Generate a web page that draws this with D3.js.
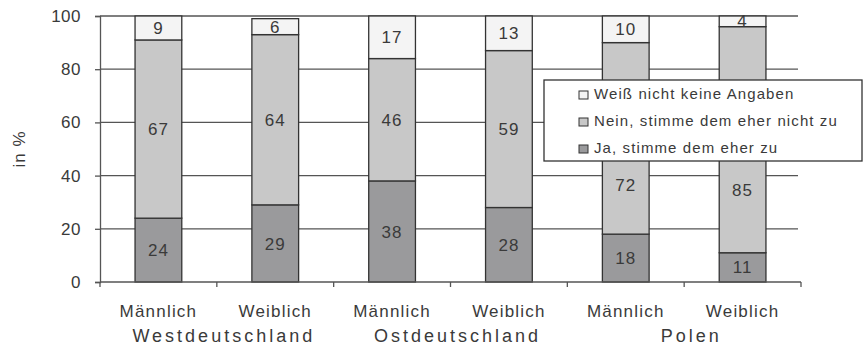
<!DOCTYPE html>
<html>
<head>
<meta charset="utf-8">
<script src="https://cdn.jsdelivr.net/npm/d3@7"></script>
<style>
  html, body { margin: 0; padding: 0; background: #fff; }
  svg { display: block; font-family: Arial, "Liberation Sans", sans-serif; }
</style>
</head>
<body>
<svg id="chart" width="864" height="347"></svg>
<script>
// Categories: gender within each region
const categories = ["WD-M", "WD-W", "OD-M", "OD-W", "PL-M", "PL-W"];
const genderLabels = ["Männlich", "Weiblich", "Männlich", "Weiblich", "Männlich", "Weiblich"];
const regions = ["Westdeutschland", "Ostdeutschland", "Polen"];

// Answer shares in percent (stacked bottom to top)
const ja = [24, 29, 38, 28, 18, 11];
const nein = [67, 64, 46, 59, 72, 85];
const weissNicht = [9, 6, 17, 13, 10, 4];

const seriesNames = ["Ja, stimme dem eher zu", "Nein, stimme dem eher nicht zu", "Weiß nicht keine Angaben"];
const yTicks = [0, 20, 40, 60, 80, 100];

const colors = ["#9a9a9c", "#c8c8c8", "#f4f4f4"];
const ink = "#3a3a3a";

const svg = d3.select("#chart");
const margin = { left: 100, right: 63, top: 16, bottom: 65 };
const W = 864, H = 347;

// Legend box placement
const legendBox = { x: 544, y: 80, w: 318, h: 81 };

const x = d3.scaleBand().domain(categories).range([margin.left, W - margin.right]).padding(0);
const y = d3.scaleLinear().domain([0, 100]).range([H - margin.bottom, margin.top]).clamp(true);
const barW = x.bandwidth() * 0.4;

// Gridlines
svg.append("g")
  .selectAll("line")
  .data(yTicks.filter(d => d > 0))
  .join("line")
  .attr("x1", margin.left).attr("x2", W - margin.right - 3)
  .attr("y1", d => y(d)).attr("y2", d => y(d))
  .attr("stroke", "#555").attr("stroke-width", 1.3);

// Stacked data
const table = categories.map((c, i) => ({ cat: c, ja: ja[i], nein: nein[i], weiss: weissNicht[i] }));
const stack = d3.stack().keys(["ja", "nein", "weiss"])(table);

const layers = svg.append("g")
  .selectAll("g")
  .data(stack)
  .join("g")
  .attr("fill", (d, i) => colors[i]);

layers.selectAll("rect")
  .data(d => d)
  .join("rect")
  .attr("x", d => x(d.data.cat) + (x.bandwidth() - barW) / 2)
  .attr("width", barW)
  .attr("y", d => y(d[1]))
  .attr("height", d => y(d[0]) - y(d[1]))
  .attr("stroke", "#333")
  .attr("stroke-width", 1.3);

// Value labels: centred in the segment, or moved into the visible part below the legend
function labelY(s) {
  const cx = x(s.data.cat) + x.bandwidth() / 2;
  const top = y(s[1]), bottom = y(s[0]);
  const mid = (top + bottom) / 2;
  const underLegend = cx > legendBox.x && cx < legendBox.x + legendBox.w &&
    mid > legendBox.y && mid < legendBox.y + legendBox.h;
  if (!underLegend) return mid;
  const visTop = legendBox.y + legendBox.h;
  return visTop + (bottom - visTop) * 0.32;
}

layers.selectAll("text")
  .data(d => d.map(s => ({ s, key: d.key })))
  .join("text")
  .attr("x", d => x(d.s.data.cat) + x.bandwidth() / 2)
  .attr("y", d => labelY(d.s))
  .attr("dy", "0.36em")
  .attr("text-anchor", "middle")
  .attr("fill", ink)
  .attr("font-size", 17)
  .attr("letter-spacing", 1)
  .text(d => d.s.data[d.key]);

// Y axis
const yAxis = svg.append("g")
  .attr("transform", `translate(${margin.left},0)`)
  .call(d3.axisLeft(y).tickValues(yTicks).tickSize(5).tickPadding(14));
yAxis.select(".domain").attr("stroke", "#555").attr("stroke-width", 1.3);
yAxis.selectAll(".tick line").attr("stroke", "#555").attr("stroke-width", 1.3);
yAxis.selectAll(".tick text")
  .attr("fill", ink).attr("font-size", 17).attr("letter-spacing", 0.5)
  .attr("font-family", "Arial, 'Liberation Sans', sans-serif");

// X axis: ticks at band boundaries
const xAxisG = svg.append("g");
xAxisG.append("line")
  .attr("x1", margin.left).attr("x2", W - margin.right)
  .attr("y1", y(0)).attr("y2", y(0))
  .attr("stroke", "#555").attr("stroke-width", 1.3);
const bounds = categories.map(c => x(c)).concat([x(categories[categories.length - 1]) + x.bandwidth()]);
xAxisG.selectAll("line.tick")
  .data(bounds)
  .join("line")
  .attr("class", "tick")
  .attr("x1", d => d).attr("x2", d => d)
  .attr("y1", y(0)).attr("y2", y(0) + 5)
  .attr("stroke", "#555").attr("stroke-width", 1.3);

// Gender labels
svg.append("g")
  .selectAll("text")
  .data(categories)
  .join("text")
  .attr("x", d => x(d) + x.bandwidth() / 2)
  .attr("y", y(0) + 35)
  .attr("text-anchor", "middle")
  .attr("fill", ink)
  .attr("font-size", 17)
  .attr("letter-spacing", 1.2)
  .text((d, i) => genderLabels[i]);

// Region labels under each pair of bars
svg.append("g")
  .selectAll("text")
  .data(regions)
  .join("text")
  .attr("x", (d, i) => x(categories[i * 2]) + x.bandwidth() + 7)
  .attr("y", y(0) + 60)
  .attr("text-anchor", "middle")
  .attr("fill", ink)
  .attr("font-size", 18)
  .attr("letter-spacing", 3)
  .text(d => d);

// Y axis title
svg.append("text")
  .attr("transform", `translate(25,${(y(0) + y(100)) / 2}) rotate(-90)`)
  .attr("text-anchor", "middle")
  .attr("fill", ink)
  .attr("font-size", 17)
  .attr("letter-spacing", 1)
  .text("in %");

// Legend
const legend = svg.append("g").attr("transform", `translate(${legendBox.x},${legendBox.y})`);
legend.append("rect")
  .attr("width", legendBox.w).attr("height", legendBox.h)
  .attr("fill", "#fff").attr("stroke", "#333").attr("stroke-width", 1.3);
const legendOrder = [2, 1, 0];
const items = legend.selectAll("g.item")
  .data(legendOrder)
  .join("g")
  .attr("class", "item")
  .attr("transform", (d, i) => `translate(35,${19 + i * 27})`);
items.append("rect")
  .attr("x", 0).attr("y", -8).attr("width", 9).attr("height", 8)
  .attr("fill", d => colors[d]).attr("stroke", "#333").attr("stroke-width", 1);
items.append("text")
  .attr("x", 15).attr("y", 0)
  .attr("fill", ink)
  .attr("font-size", 15)
  .attr("letter-spacing", 1.1)
  .text(d => seriesNames[d]);
</script>
</body>
</html>
